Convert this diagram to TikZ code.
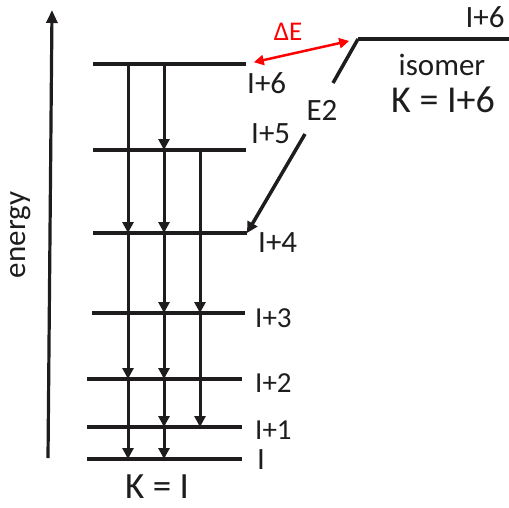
\documentclass[tikz,border=0pt]{standalone}
\usepackage{fontspec}
\setmainfont{Carlito}
\usetikzlibrary{arrows.meta}
\definecolor{ink}{RGB}{30,28,28}
\tikzset{
  level/.style = {line width=4pt, ink},
  trans/.style = {-{Triangle[length=11pt, width=11pt]}, line width=3pt, ink},
  axis/.style = {-{Triangle[length=13pt, width=11pt]}, line width=3.2pt, ink},
  gap/.style = {{Triangle[length=10pt, width=10pt]}-{Triangle[length=10pt, width=10pt]}, line width=2.5pt, red},
  lab/.style = {anchor=west, inner sep=0pt, text=ink, font=\fontsize{31}{31}\selectfont},
  slab/.style = {lab, font=\fontsize{29}{29}\selectfont},
  klab/.style = {inner sep=0pt, text=ink, font=\fontsize{38}{38}\selectfont}
}

\begin{document}
\begin{tikzpicture}[x=1pt, y=-1pt]
\useasboundingbox (0,0) rectangle (509,507);

% Level ends
\coordinate (l6w) at (93,64);  \coordinate (l6e) at (246,64);
\coordinate (l5w) at (93,150); \coordinate (l5e) at (246,150);
\coordinate (l4w) at (93,233); \coordinate (l4e) at (247,233);
\coordinate (l3w) at (92,313); \coordinate (l3e) at (245,313);
\coordinate (l2w) at (87,379); \coordinate (l2e) at (242,379);
\coordinate (l1w) at (87,427); \coordinate (l1e) at (242,427);
\coordinate (l0w) at (87,459); \coordinate (l0e) at (242,459);

% Columns of the cascade
\coordinate (c1) at (128,0);
\coordinate (c2) at (164,0);
\coordinate (c3) at (200,0);

% Isomer
\coordinate (iso) at (358,39);
\coordinate (isoe) at (509,39);
\coordinate (e2top) at (333,83);
\coordinate (e2bot) at (305,134);

% Energy axis
\coordinate (ax0) at (48,458);
\coordinate (ax1) at (52,10);
\draw[axis] (ax0) -- (ax1);
\node[rotate=90, inner sep=0pt, text=ink, font=\fontsize{31}{31}\selectfont] (en) at (21,235) {energy};

% Levels
\draw[level] (l6w) -- (l6e);
\draw[level] (l5w) -- (l5e);
\draw[level] (l4w) -- (l4e);
\draw[level] (l3w) -- (l3e);
\draw[level] (l2w) -- (l2e);
\draw[level] (l1w) -- (l1e);
\draw[level] (l0w) -- (l0e);
\draw[level] (iso) -- (isoe);

% Level labels
\node[lab] (t6) at (247,83) {I+6};
\node[lab] (t5) at (251,134) {I+5};
\node[lab] (t4) at (258,243) {I+4};
\node[slab] (t3) at (255,318) {I+3};
\node[slab] (t2) at (255,383) {I+2};
\node[slab] (t1) at (255,430) {I+1};
\node[lab] (t0) at (257,460) {I};
\node[lab, anchor=center] (tiso) at (485,17) {I+6};
\node[lab, anchor=center] (isom) at (442,65) {isomer};
\node[klab] (kiso) at (443,100) {K = I+6};
\node[klab, font=\fontsize{37}{37}\selectfont] (kgs) at (157,487) {K = I};

% Cascade, column 1
\draw[trans] (c1 |- l6w) -- (c1 |- l4w);
\draw[trans] (c1 |- l4w) -- (c1 |- l2w);
\draw[trans] (c1 |- l2w) -- (c1 |- l0w);

% Cascade, column 2
\draw[trans] (c2 |- l6w) -- (c2 |- l5w);
\draw[trans] (c2 |- l5w) -- (c2 |- l4w);
\draw[trans] (c2 |- l4w) -- (c2 |- l3w);
\draw[trans] (c2 |- l3w) -- (c2 |- l2w);
\draw[trans] (c2 |- l2w) -- (c2 |- l1w);
\draw[trans] (c2 |- l1w) -- (c2 |- l0w);

% Cascade, column 3
\draw[trans] (c3 |- l5w) -- (c3 |- l3w);
\draw[trans] (c3 |- l3w) -- (c3 |- l1w);

% Isomer decay
\draw[level, line width=3.5pt] (iso) -- (e2top);
\draw[trans, line width=3.5pt] (e2bot) -- (l4e);
\node[lab, anchor=center] (e2) at (322,110) {E2};

% Energy gap
\draw[gap, shorten <=8pt, shorten >=9pt] (l6e) -- (iso);
\node[inner sep=0pt, text=red, font=\fontsize{27}{27}\selectfont] (de) at (288,32) {ΔE};

\end{tikzpicture}
\end{document}
